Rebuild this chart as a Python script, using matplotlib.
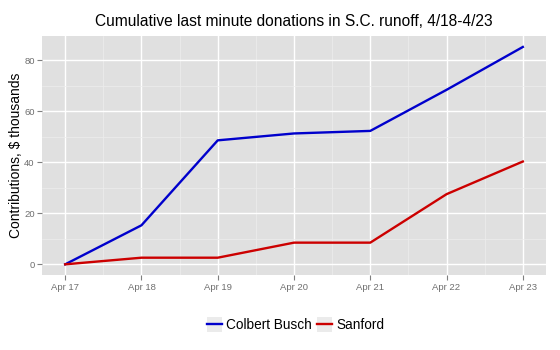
import matplotlib.pyplot as plt
from matplotlib.ticker import MultipleLocator
from matplotlib.legend_handler import HandlerLine2D
from matplotlib.patches import Rectangle

plt.rcParams["font.family"] = ["Liberation Sans", "DejaVu Sans"]

# Cumulative donations, $ thousands
days = ["Apr 17", "Apr 18", "Apr 19", "Apr 20", "Apr 21", "Apr 22", "Apr 23"]
colbert_busch = [0, 15.3, 48.6, 51.3, 52.3, 68.4, 85.2]
sanford = [0, 2.6, 2.6, 8.5, 8.5, 27.5, 40.3]

blue = "#0000CC"
red = "#CC0000"
panel_bg = "#E0E0E0"


class KeyWithBox(HandlerLine2D):
    """Line key drawn over a light grey square, ggplot style."""

    def create_artists(self, legend, orig_handle, xdescent, ydescent,
                       width, height, fontsize, trans):
        size = max(width, height) * 1.0
        y0 = -ydescent + height / 2 - size / 2
        box = Rectangle((-xdescent + (width - size) / 2, y0), size, size,
                        facecolor="#EBEBEB", edgecolor="none", transform=trans)
        artists = super().create_artists(legend, orig_handle, xdescent, ydescent,
                                         width, height, fontsize, trans)
        return [box] + artists


fig = plt.figure(figsize=(5.6, 3.5), dpi=100)
ax = fig.add_axes([42.3 / 560, 1 - 275.3 / 350, (545.7 - 42.3) / 560, (275.3 - 36) / 350])
ax.set_facecolor(panel_bg)

x = list(range(len(days)))
ax.plot(x, colbert_busch, color=blue, lw=1.7, label="Colbert Busch", zorder=3)
ax.plot(x, sanford, color=red, lw=1.7, label="Sanford", zorder=3)

ax.set_xlim(-0.3, 6.3)
ax.set_ylim(-4.3, 89.5)
ax.set_xticks(x)
ax.set_xticklabels(days)
ax.yaxis.set_major_locator(MultipleLocator(20))
ax.yaxis.set_minor_locator(MultipleLocator(10))
ax.xaxis.set_minor_locator(MultipleLocator(0.5))

# ggplot-like grid
ax.grid(which="major", color="white", lw=1.0)
ax.grid(which="minor", color="#EDEDED", lw=0.5)
ax.set_axisbelow(True)
for s in ax.spines.values():
    s.set_visible(False)

ax.tick_params(which="major", colors="#7F7F7F", labelsize=6.8, length=3.5, width=0.8, pad=2)
ax.tick_params(which="minor", length=0)
for lbl in ax.get_xticklabels() + ax.get_yticklabels():
    lbl.set_color("#6E6E6E")

ax.set_ylabel("Contributions, $ thousands", fontsize=10, color="black")
ax.yaxis.set_label_coords(-0.038, 0.5)
ax.set_title("Cumulative last minute donations in S.C. runoff, 4/18-4/23",
             fontsize=11.2, color="black", pad=7)

leg = fig.legend(loc="center", bbox_to_anchor=(0.528, 1 - 325 / 350), ncol=2,
                 frameon=False, fontsize=9.8, handlelength=1.1, handleheight=1.1,
                 handletextpad=0.35, columnspacing=0.35, borderaxespad=0,
                 handler_map={plt.Line2D: KeyWithBox()})
for h in leg.legend_handles:
    h.set_linewidth(2)

fig.savefig("out.png", dpi=100)
plt.close(fig)
